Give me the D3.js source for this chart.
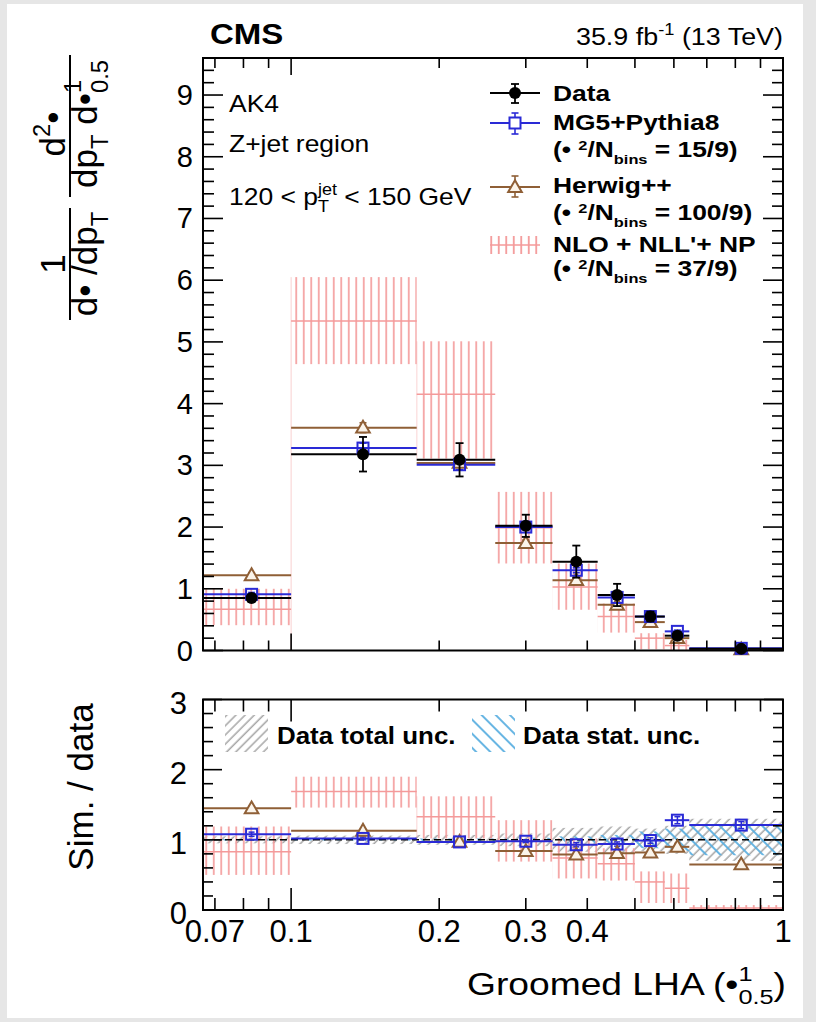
<!DOCTYPE html>
<html><head><meta charset="utf-8">
<script src="https://cdn.jsdelivr.net/npm/d3@7"></script>
<style>
html,body{margin:0;padding:0;background:#e6e6e6;}
svg{display:block;}
text{white-space:pre;}
</style></head><body>
<svg id="c" width="816" height="1022"></svg>
<script>
// ---------------- data ----------------
const binEdges   = [0.0662, 0.1, 0.18, 0.26, 0.34, 0.42, 0.5, 0.575, 0.645, 1];
const dataVals   = [0.85, 3.18, 3.09, 2.02, 1.44, 0.90, 0.55, 0.24, 0.03];
const dataErr    = [0.05, 0.28, 0.27, 0.18, 0.26, 0.18, 0.08, 0.05, 0.01];
const mg5Vals    = [0.91, 3.28, 3.01, 2.00, 1.30, 0.86, 0.55, 0.31, 0.035];
const mg5Err     = [0.03, 0.08, 0.08, 0.05, 0.04, 0.03, 0.02, 0.02, 0.005];
const herwigVals = [1.22, 3.61, 3.04, 1.74, 1.14, 0.74, 0.46, 0.20, 0.02];
const herwigErr  = [0.04, 0.08, 0.07, 0.05, 0.04, 0.03, 0.02, 0.02, 0.005];
const nloVals    = [0.67, 5.34, 4.15, 1.99, 1.03, 0.55, 0.20, 0.08, 0.005];
const nloLo      = [0.41, 4.64, 3.11, 1.41, 0.66, 0.29, 0.02, 0.01, 0.0];
const nloHi      = [1.00, 6.05, 5.01, 2.57, 1.41, 0.76, 0.28, 0.17, 0.02];

const ratioMg5      = [1.08, 1.02, 0.97, 0.98, 0.93, 0.94, 0.99, 1.28, 1.21];
const ratioMg5Err   = [0.03, 0.02, 0.02, 0.02, 0.03, 0.03, 0.04, 0.05, 0.05];
const ratioHerwig   = [1.45, 1.13, 0.97, 0.84, 0.79, 0.81, 0.82, 0.90, 0.65];
const ratioHerwigErr= [0.03, 0.02, 0.02, 0.02, 0.03, 0.03, 0.04, 0.05, 0.05];
const ratioNlo      = [0.83, 1.69, 1.33, 0.98, 0.74, 0.66, 0.40, 0.31, 0.03];
const ratioNloLo    = [0.50, 1.46, 1.02, 0.69, 0.45, 0.42, 0.10, 0.10, 0.00];
const ratioNloHi    = [1.19, 1.90, 1.62, 1.28, 1.02, 0.88, 0.55, 0.52, 0.07];
const dataTotUnc    = [0.05, 0.06, 0.07, 0.09, 0.17, 0.19, 0.16, 0.20, 0.30];
const dataStatUnc   = [0.01, 0.01, 0.02, 0.03, 0.05, 0.07, 0.12, 0.16, 0.22];

const yMainTicks  = [0, 1, 2, 3, 4, 5, 6, 7, 8, 9];
const yRatioTicks = [0, 1, 2, 3];
const xTickVals   = [0.07, 0.1, 0.2, 0.3, 0.4, 1];
const xTickLabels = ['0.07', '0.1', '0.2', '0.3', '0.4', '1'];
const xMajorTicks = [0.1, 1];
const xMinorTicks = [0.07, 0.08, 0.09, 0.2, 0.3, 0.4, 0.5, 0.6, 0.7, 0.8, 0.9];

// ---------------- style ----------------
const FONT = "'Liberation Sans', Arial, Helvetica, sans-serif";
const C_BLUE = '#2a2ad6', C_BROWN = '#8f5f36', C_PINK = '#f49a9a';

const svg = d3.select('#c');
svg.append('rect').attr('x', 7).attr('y', 4).attr('width', 796).attr('height', 1014).attr('fill', '#fff');

const defs = svg.append('defs');
const pNlo = defs.append('pattern').attr('id', 'nloH').attr('patternUnits', 'userSpaceOnUse').attr('width', 7.5).attr('height', 10);
pNlo.append('line').attr('x1', 3.75).attr('x2', 3.75).attr('y1', 0).attr('y2', 10).attr('stroke', C_PINK).attr('stroke-width', 1.8);
const pGrey = defs.append('pattern').attr('id', 'greyH').attr('patternUnits', 'userSpaceOnUse').attr('width', 6.5).attr('height', 10).attr('patternTransform', 'rotate(45)');
pGrey.append('line').attr('x1', 3).attr('x2', 3).attr('y1', 0).attr('y2', 10).attr('stroke', '#a9a9a9').attr('stroke-width', 1.6);
const pBlue = defs.append('pattern').attr('id', 'blueH').attr('patternUnits', 'userSpaceOnUse').attr('width', 10).attr('height', 10).attr('patternTransform', 'rotate(-45)');
pBlue.append('line').attr('x1', 5).attr('x2', 5).attr('y1', 0).attr('y2', 10).attr('stroke', '#58aee0').attr('stroke-width', 1.8);

// ---------------- text helper ----------------
function measure(str, size, weight) {
  const t = svg.append('text').attr('font-family', FONT).attr('font-size', size)
    .attr('font-weight', weight).attr('x', -2000).attr('y', -2000).text(str);
  const w = t.node().getComputedTextLength(); t.remove(); return w;
}
function rich(parent, o, parts) {
  const size = o.size, weight = o.weight || 'normal', sx = o.sx || 1;
  const s2 = size * (o.supScale || 0.68);
  const supDy = o.supDy != null ? o.supDy : -0.42;
  let cur = 0; const items = [];
  parts.forEach(p => {
    if (typeof p === 'string') p = { t: p };
    if (p.stack) {
      const w1 = measure(p.stack[0], s2, weight), w2 = measure(p.stack[1], s2, weight);
      items.push({ t: p.stack[0], x: cur, dy: -0.45 * size, s: s2 });
      items.push({ t: p.stack[1], x: cur, dy: 0.3 * size, s: s2 });
      cur += Math.max(w1, w2);
    } else if (p.sup) {
      items.push({ t: p.t, x: cur, dy: supDy * size, s: s2 }); cur += measure(p.t, s2, weight);
    } else if (p.sub) {
      items.push({ t: p.t, x: cur, dy: 0.3 * size, s: s2 }); cur += measure(p.t, s2, weight);
    } else {
      items.push({ t: p.t, x: cur, dy: 0, s: size }); cur += measure(p.t, size, weight);
    }
  });
  const shift = o.anchor === 'middle' ? -cur / 2 : o.anchor === 'end' ? -cur : 0;
  const g = parent.append('g').attr('transform', `translate(${o.x},${o.y}) rotate(${o.rotate || 0}) scale(${sx},1)`);
  g.selectAll(null).data(items).join('text')
    .attr('x', d => d.x + shift).attr('y', d => d.dy)
    .attr('font-size', d => d.s).attr('font-weight', weight)
    .attr('font-family', FONT).attr('fill', o.fill || '#000').text(d => d.t);
  return g;
}

// ---------------- scales ----------------
const x = d3.scaleLog().domain([binEdges[0], 1]).range([203, 783]);
const yM = d3.scaleLinear().domain([0, 9.6]).range([650.5, 58]);
const yR = d3.scaleLinear().domain([0, 3]).range([910, 699.5]);
const bins = d3.range(binEdges.length - 1).map(i => ({
  i, lo: binEdges[i], hi: binEdges[i + 1], c: (binEdges[i] + binEdges[i + 1]) / 2
}));

// ---------------- tick helper ----------------
function frameTicks(g, y, yMajor, yMinor, yLenMaj, yLenMin, xLenMaj, xLenMin) {
  const [x0, x1] = x.range(); const [yb, yt] = y.range();
  const line = (sel) => sel.attr('stroke', '#000').attr('stroke-width', 1.6);
  [[yMajor, yLenMaj], [yMinor, yLenMin]].forEach(([vals, len]) => {
    line(g.selectAll(null).data(vals).join('line').attr('x1', x0).attr('x2', x0 + len).attr('y1', d => y(d)).attr('y2', d => y(d)));
    line(g.selectAll(null).data(vals).join('line').attr('x1', x1).attr('x2', x1 - len).attr('y1', d => y(d)).attr('y2', d => y(d)));
  });
  [[xMajorTicks, xLenMaj], [xMinorTicks, xLenMin]].forEach(([vals, len]) => {
    line(g.selectAll(null).data(vals).join('line').attr('x1', d => x(d)).attr('x2', d => x(d)).attr('y1', yb).attr('y2', yb - len));
    line(g.selectAll(null).data(vals).join('line').attr('x1', d => x(d)).attr('x2', d => x(d)).attr('y1', yt).attr('y2', yt + len));
  });
  g.append('rect').attr('x', x0).attr('y', yt).attr('width', x1 - x0).attr('height', yb - yt)
    .attr('fill', 'none').attr('stroke', '#000').attr('stroke-width', 2);
}

// ---------------- drawing helpers ----------------
function hLines(g, y, vals, color, w) {
  g.selectAll(null).data(bins).join('line')
    .attr('x1', d => x(d.lo)).attr('x2', d => x(d.hi))
    .attr('y1', d => y(vals[d.i])).attr('y2', d => y(vals[d.i]))
    .attr('stroke', color).attr('stroke-width', w);
}
function errBars(g, y, vals, errs, color, w, cap) {
  bins.forEach(d => {
    const cx = x(d.c), a = y(vals[d.i] - errs[d.i]), b = y(vals[d.i] + errs[d.i]);
    g.append('line').attr('x1', cx).attr('x2', cx).attr('y1', a).attr('y2', b).attr('stroke', color).attr('stroke-width', w);
    [a, b].forEach(yy => g.append('line').attr('x1', cx - cap).attr('x2', cx + cap).attr('y1', yy).attr('y2', yy).attr('stroke', color).attr('stroke-width', w));
  });
}
function markers(g, y, vals, kind, color) {
  const sel = g.selectAll(null).data(bins);
  if (kind === 'circle') {
    sel.join('circle').attr('cx', d => x(d.c)).attr('cy', d => y(vals[d.i])).attr('r', 6).attr('fill', color);
  } else if (kind === 'square') {
    sel.join('rect').attr('x', d => x(d.c) - 5.5).attr('y', d => y(vals[d.i]) - 5.5).attr('width', 11).attr('height', 11)
      .attr('fill', 'none').attr('stroke', color).attr('stroke-width', 2);
  } else {
    sel.join('path').attr('d', d3.symbol(d3.symbolTriangle, 80))
      .attr('transform', d => `translate(${x(d.c)},${y(vals[d.i]) + 1})`)
      .attr('fill', '#fbf4ea').attr('stroke', color).attr('stroke-width', 2);
  }
}
function nloBands(g, y, vals, lo, hi) {
  g.selectAll(null).data(bins).join('rect')
    .attr('x', d => x(d.lo)).attr('width', d => x(d.hi) - x(d.lo))
    .attr('y', d => y(hi[d.i])).attr('height', d => Math.max(0, y(lo[d.i]) - y(hi[d.i])))
    .attr('fill', 'url(#nloH)').attr('opacity', 0.9);
  hLines(g, y, vals, C_PINK, 1.5);
}

// ================= MAIN PANEL =================
const gm = svg.append('g');
gm.append('line').attr('x1', x(0.1)).attr('x2', x(0.1)).attr('y1', yM(nloHi[1])).attr('y2', yM(0))
  .attr('stroke', C_PINK).attr('stroke-width', 1).attr('opacity', 0.45);
nloBands(gm, yM, nloVals, nloLo, nloHi);
hLines(gm, yM, herwigVals, C_BROWN, 2);
hLines(gm, yM, mg5Vals, C_BLUE, 2);
hLines(gm, yM, dataVals, '#000', 2);
errBars(gm, yM, herwigVals, herwigErr, C_BROWN, 1.6, 3.5);
errBars(gm, yM, mg5Vals, mg5Err, C_BLUE, 1.6, 3.5);
markers(gm, yM, herwigVals, 'triangle', C_BROWN);
markers(gm, yM, mg5Vals, 'square', C_BLUE);
errBars(gm, yM, dataVals, dataErr, '#000', 1.8, 4);
markers(gm, yM, dataVals, 'circle', '#000');
frameTicks(gm, yM, yMainTicks, d3.range(1, 48).map(i => i * 0.2).filter(v => Math.abs(v - Math.round(v)) > 1e-6), 20, 11, 17, 10);

yMainTicks.forEach(v => rich(svg, { x: 193, y: yM(v) + 10, size: 29, anchor: 'end' }, [String(v)]));

rich(svg, { x: 229, y: 112, size: 23, sx: 1.15 }, ['AK4']);
rich(svg, { x: 229, y: 152, size: 23, sx: 1.15 }, ['Z+jet region']);
rich(svg, { x: 229, y: 205, size: 23, sx: 1.15 }, ['120 < p', { stack: ['jet', 'T'] }, ' < 150 GeV']);

// legend main
const lg = svg.append('g');
const legX0 = 490, legX1 = 540, legXc = 515, legTx = 553;
lg.append('line').attr('x1', legX0).attr('x2', legX1).attr('y1', 93).attr('y2', 93).attr('stroke', '#000').attr('stroke-width', 2);
lg.append('line').attr('x1', legXc).attr('x2', legXc).attr('y1', 84).attr('y2', 103).attr('stroke', '#000').attr('stroke-width', 1.8);
[84, 103].forEach(yy => lg.append('line').attr('x1', legXc - 4).attr('x2', legXc + 4).attr('y1', yy).attr('y2', yy).attr('stroke', '#000').attr('stroke-width', 1.8));
lg.append('circle').attr('cx', legXc).attr('cy', 93).attr('r', 6).attr('fill', '#000');
lg.append('line').attr('x1', legX0).attr('x2', legX1).attr('y1', 123).attr('y2', 123).attr('stroke', C_BLUE).attr('stroke-width', 2);
lg.append('line').attr('x1', legXc).attr('x2', legXc).attr('y1', 113).attr('y2', 134).attr('stroke', C_BLUE).attr('stroke-width', 1.6);
[113, 134].forEach(yy => lg.append('line').attr('x1', legXc - 3.5).attr('x2', legXc + 3.5).attr('y1', yy).attr('y2', yy).attr('stroke', C_BLUE).attr('stroke-width', 1.6));
lg.append('rect').attr('x', legXc - 5.5).attr('y', 117.5).attr('width', 11).attr('height', 11).attr('fill', '#fff').attr('stroke', C_BLUE).attr('stroke-width', 2);
lg.append('line').attr('x1', legX0).attr('x2', legX1).attr('y1', 187).attr('y2', 187).attr('stroke', C_BROWN).attr('stroke-width', 2);
lg.append('line').attr('x1', legXc).attr('x2', legXc).attr('y1', 176).attr('y2', 197).attr('stroke', C_BROWN).attr('stroke-width', 1.6);
[176, 197].forEach(yy => lg.append('line').attr('x1', legXc - 3.5).attr('x2', legXc + 3.5).attr('y1', yy).attr('y2', yy).attr('stroke', C_BROWN).attr('stroke-width', 1.6));
lg.append('path').attr('d', d3.symbol(d3.symbolTriangle, 80)).attr('transform', `translate(${legXc},188)`)
  .attr('fill', '#fbf4ea').attr('stroke', C_BROWN).attr('stroke-width', 2);
lg.append('rect').attr('x', legX0).attr('y', 236).attr('width', legX1 - legX0).attr('height', 18).attr('fill', 'url(#nloH)');
lg.append('line').attr('x1', legX0).attr('x2', legX1).attr('y1', 245).attr('y2', 245).attr('stroke', C_PINK).attr('stroke-width', 1.5);

const LS = { size: 22, weight: 'bold', sx: 1.2, supDy: -0.3, supScale: 0.62 };
rich(svg, { ...LS, x: legTx, y: 101 }, ['Data']);
rich(svg, { ...LS, x: legTx, y: 130 }, ['MG5+Pythia8']);
rich(svg, { ...LS, x: legTx, y: 157 }, ['(• ', { sup: true, t: '2' }, '/N', { sub: true, t: 'bins' }, ' = 15/9)']);
rich(svg, { ...LS, x: legTx, y: 193 }, ['Herwig++']);
rich(svg, { ...LS, x: legTx, y: 220 }, ['(• ', { sup: true, t: '2' }, '/N', { sub: true, t: 'bins' }, ' = 100/9)']);
rich(svg, { ...LS, x: legTx, y: 252 }, ["NLO + NLL'+ NP"]);
rich(svg, { ...LS, x: legTx, y: 276 }, ['(• ', { sup: true, t: '2' }, '/N', { sub: true, t: 'bins' }, ' = 37/9)']);

// header
rich(svg, { x: 210, y: 44, size: 30, weight: 'bold', sx: 1.1 }, ['CMS']);
rich(svg, { x: 783, y: 45, size: 24, sx: 1.12, anchor: 'end' }, ['35.9 fb', { sup: true, t: '-1' }, ' (13 TeV)']);

// main y title (two rotated fractions)
svg.append('line').attr('x1', 70).attr('x2', 70).attr('y1', 208).attr('y2', 320).attr('stroke', '#000').attr('stroke-width', 2);
svg.append('line').attr('x1', 70).attr('x2', 70).attr('y1', 55).attr('y2', 197).attr('stroke', '#000').attr('stroke-width', 2);
rich(svg, { x: 65, y: 264, size: 35, rotate: -90, anchor: 'middle' }, ['1']);
rich(svg, { x: 97, y: 264, size: 35, rotate: -90, anchor: 'middle' }, ['d• /dp', { sub: true, t: 'T' }]);
rich(svg, { x: 65, y: 134, size: 35, rotate: -90, anchor: 'middle' }, ['d', { sup: true, t: '2' }, '•']);
rich(svg, { x: 97, y: 124, size: 35, rotate: -90, anchor: 'middle' }, ['dp', { sub: true, t: 'T' }, ' d•', { stack: ['1', '0.5'] }]);

// ================= RATIO PANEL =================
const gr = svg.append('g');
gr.selectAll(null).data(bins).join('rect')
  .attr('x', d => x(d.lo)).attr('width', d => x(d.hi) - x(d.lo))
  .attr('y', d => yR(1 + dataTotUnc[d.i])).attr('height', d => yR(1 - dataTotUnc[d.i]) - yR(1 + dataTotUnc[d.i]))
  .attr('fill', 'url(#greyH)');
gr.selectAll(null).data(bins).join('rect')
  .attr('x', d => x(d.lo)).attr('width', d => x(d.hi) - x(d.lo))
  .attr('y', d => yR(1 + dataStatUnc[d.i])).attr('height', d => yR(1 - dataStatUnc[d.i]) - yR(1 + dataStatUnc[d.i]))
  .attr('fill', 'url(#blueH)');
nloBands(gr, yR, ratioNlo, ratioNloLo, ratioNloHi);
gr.append('line').attr('x1', x.range()[0]).attr('x2', x.range()[1]).attr('y1', yR(1)).attr('y2', yR(1))
  .attr('stroke', '#000').attr('stroke-width', 1.5).attr('stroke-dasharray', '7,4');
hLines(gr, yR, ratioHerwig, C_BROWN, 2);
hLines(gr, yR, ratioMg5, C_BLUE, 2);
errBars(gr, yR, ratioHerwig, ratioHerwigErr, C_BROWN, 1.5, 3);
errBars(gr, yR, ratioMg5, ratioMg5Err, C_BLUE, 1.5, 3);
markers(gr, yR, ratioHerwig, 'triangle', C_BROWN);
markers(gr, yR, ratioMg5, 'square', C_BLUE);
frameTicks(gr, yR, yRatioTicks, d3.range(1, 15).map(i => i * 0.2).filter(v => Math.abs(v - Math.round(v)) > 1e-6), 19, 10, 22, 12);

gr.append('rect').attr('x', 225).attr('y', 715).attr('width', 43).attr('height', 37).attr('fill', 'url(#greyH)');
gr.append('rect').attr('x', 472).attr('y', 715).attr('width', 43).attr('height', 37).attr('fill', 'url(#blueH)');
rich(svg, { x: 277, y: 744, size: 24, weight: 'bold', sx: 1.08 }, ['Data total unc.']);
rich(svg, { x: 523, y: 744, size: 24, weight: 'bold', sx: 1.08 }, ['Data stat. unc.']);

yRatioTicks.forEach(v => rich(svg, { x: 187, y: yR(v) + 14, size: 31, anchor: 'end' }, [String(v)]));
xTickVals.forEach((v, k) => rich(svg, { x: x(v), y: 942, size: 31, anchor: 'middle' }, [xTickLabels[k]]));

rich(svg, { x: 93, y: 787, size: 35, rotate: -90, anchor: 'middle' }, ['Sim. / data']);
rich(svg, { x: 786, y: 995, size: 31, sx: 1.2, anchor: 'end' }, ['Groomed LHA (•', { stack: ['1', '0.5'] }, ')']);
</script>
</body></html>
